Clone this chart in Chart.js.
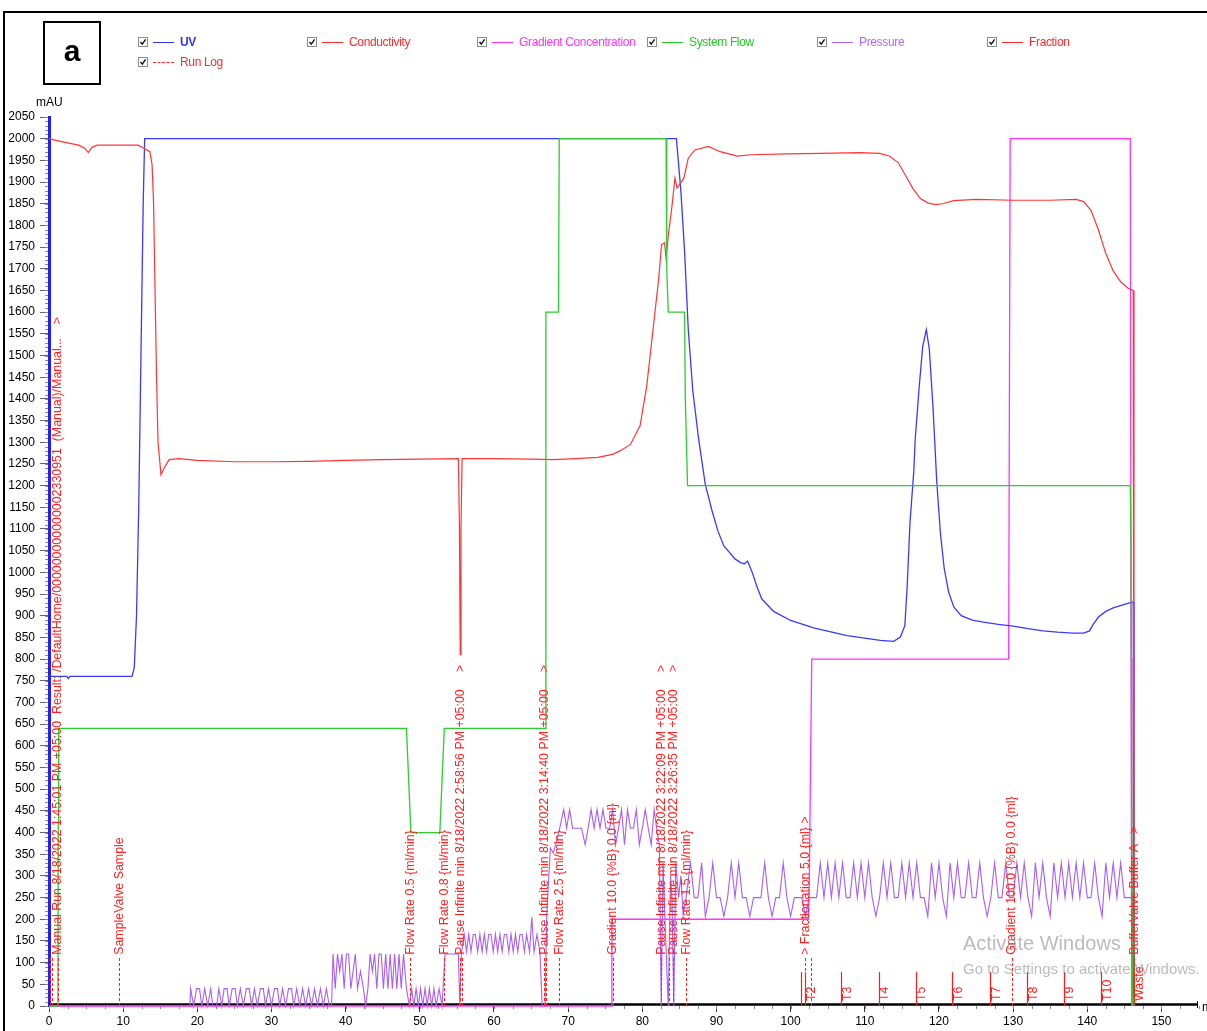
<!DOCTYPE html>
<html>
<head>
<meta charset="utf-8">
<script src="https://cdn.jsdelivr.net/npm/chart.js@4.4.1/dist/chart.umd.min.js"></script>
<style>
  html, body { margin: 0; padding: 0; background: #fff; }
  body { width: 1207px; height: 1031px; position: relative; overflow: hidden;
         font-family: 'Liberation Sans', Arial, sans-serif; }
  #c { position: absolute; left: 0; top: 0; }
  .frame-top { position: absolute; left: 3px; top: 11px; width: 1204px; height: 2px; background: #000; }
  .frame-left { position: absolute; left: 3px; top: 11px; width: 2px; height: 1020px; background: #000; }
  .tag { position: absolute; left: 43px; top: 21px; width: 54px; height: 60px; border: 2px solid #000;
         font: bold 30px 'Liberation Sans', Arial, sans-serif; text-align: center; line-height: 56px; }
  .unit { position: absolute; left: 36px; top: 95px; font-size: 12px; color: #000; }
  .lg { position: absolute; height: 12px; }
  .lg .cb { position: absolute; left: 0; top: 0; width: 8px; height: 8px; border: 1px solid #8c8c8c; background: #fff; }
  .lg .cb svg { position: absolute; left: 0; top: 0; }
  .lg .ln { position: absolute; left: 15px; top: 5px; width: 21px; height: 0; border-top: 1.3px solid; }
  .lg .tx { position: absolute; left: 42px; top: -2px; font-size: 12px; letter-spacing: -0.35px;
            white-space: nowrap; line-height: 14px; }
</style>
</head>
<body>
<canvas id="c" width="1207" height="1031"></canvas>
<div class="frame-top"></div>
<div class="frame-left"></div>
<div class="tag">a</div>
<div class="unit">mAU</div>
<div id="legend"></div>
<script>
// ---- curve data: [volume ml, value] ----
const uv = [[0,760],[2.4,760],[2.6,755],[2.8,760],[11.2,760],[11.5,780],[11.8,900],[12.1,1150],[12.4,1500],
  [12.7,1850],[12.9,2000],[84.6,2000],[85.2,1880],[85.7,1740],[86.2,1560],[86.8,1420],[87.6,1307],[88.5,1202],
  [89.4,1142],[90.2,1095],[91.0,1061],[92.5,1031],[93.3,1022],[93.8,1020],[94.2,1026],[94.8,1001],[95.5,965],
  [96.1,939],[97.7,910],[100.0,889],[103.1,872],[107.6,854],[112.1,843],[113.9,841],[114.8,851],[115.4,877],
  [115.7,962],[116.1,1116],[116.6,1231],[116.8,1307],[117.3,1420],[117.8,1520],[118.3,1560],[118.7,1515],
  [119.2,1380],[119.7,1210],[120.2,1090],[120.7,1010],[121.3,955],[122.0,920],[123.0,900],[124.5,890],
  [126.0,885],[128.0,880],[130.0,876],[132.0,870],[134.0,865],[136.0,862],[138.0,860],[139.5,860],[140.3,865],
  [140.8,880],[141.5,897],[142.5,910],[143.5,918],[145.0,926],[146.2,932],[146.3,20]];

const conductivity = [[0,2000],[0.5,1998],[2,1992],[4,1985],[4.8,1978],[5.3,1968],[5.8,1980],[6.5,1985],
  [12.0,1985],[12.8,1978],[13.6,1970],[13.9,1940],[14.1,1850],[14.3,1650],[14.5,1450],[14.7,1300],[15.1,1225],
  [15.5,1240],[16.2,1260],[17.5,1262],[20,1258],[25,1255],[30,1255],[35,1256],[40,1258],[45,1260],[50,1261],
  [55.2,1262],[55.35,1100],[55.45,810],[55.55,1100],[55.7,1262],[60,1262],[65,1261],[68,1260],[71,1262],
  [74,1265],[76,1272],[77,1280],[78.4,1295],[79.7,1338],[80.6,1430],[81.5,1568],[82.2,1675],[82.6,1756],
  [83.0,1760],[83.2,1726],[83.5,1775],[84.0,1844],[84.4,1909],[84.7,1886],[85.6,1909],[86.2,1955],[87.1,1974],
  [88.9,1982],[90.5,1970],[92.8,1960],[94.6,1963],[99.5,1965],[104,1966],[109.4,1968],[112,1966],[113.3,1960],
  [114.5,1945],[115.5,1915],[116.5,1885],[117.5,1862],[118.5,1852],[119.5,1848],[120.5,1850],[122,1857],
  [125,1860],[130,1858],[135,1858],[138.5,1860],[139.5,1855],[140.5,1835],[141.5,1790],[142.5,1735],
  [143.5,1695],[144.5,1670],[145.5,1655],[146.2,1650],[146.3,0]];

const systemFlow = [[0,0],[1.2,0],[1.25,420],[1.3,640],[48.2,640],[48.4,560],[48.8,400],[52.7,400],[53.1,560],
  [53.3,640],[66.9,640],[67.0,1600],[68.7,1600],[68.8,2000],[83.2,2000],[83.3,1700],[83.5,1600],[85.7,1600],
  [85.8,1400],[86.1,1200],[145.8,1200],[145.9,1060],[146.0,1060],[146.1,0]];

const gradient = [[0,0],[75.8,0],[75.9,200],[102.4,200],[102.5,260],[102.7,580],[102.85,800],[129.4,800],
  [129.6,2000],[145.8,2000],[145.9,800],[146.0,0]];

const pressure = [[0,0],[19.0,0],[19.1,40],[19.5,0],[19.9,40],[20.3,40],[20.6,0],[21.0,40],[21.4,0],[21.8,40],
  [22.1,0],[22.6,0],[22.9,40],[23.3,0],[23.6,40],[24.0,40],[24.3,0],[24.7,40],[25.1,40],[25.4,0],[25.8,40],
  [26.2,0],[26.6,40],[27.0,40],[27.3,0],[27.7,40],[28.1,0],[28.5,40],[28.9,40],[29.2,0],[29.6,40],[30.0,0],
  [30.4,40],[30.8,40],[31.1,0],[31.5,40],[31.9,0],[32.3,40],[32.7,40],[33.0,0],[33.4,40],[33.8,0],[34.2,40],
  [34.6,0],[35.0,40],[35.4,0],[35.8,40],[36.2,0],[36.6,40],[37.0,0],[37.4,40],[37.8,0],[38.1,0],
  [38.3,120],[38.6,40],[38.9,120],[39.2,80],[39.5,120],[39.8,40],[40.1,120],[40.4,120],[40.7,40],[41.0,80],
  [41.3,120],[41.6,40],[42.0,80],[42.4,40],[42.7,0],[43.0,40],[43.3,120],[43.6,80],[43.9,120],[44.2,40],
  [44.5,120],[44.8,120],[45.1,40],[45.4,120],[45.7,40],[46.0,120],[46.3,40],[46.6,120],[46.9,40],[47.2,120],
  [47.5,40],[47.8,120],[48.2,40],[48.6,0],[48.9,40],[49.2,0],[49.5,40],[49.8,0],[50.1,40],[50.4,0],[50.7,40],
  [51.0,0],[51.3,40],[51.6,0],[51.9,40],[52.2,0],[52.6,40],[53.0,0],[53.4,120],[55.2,120],[55.4,0],[55.6,120],
  [56.0,165],[56.3,125],[56.6,165],[56.9,125],[57.2,165],[57.5,165],[57.8,125],[58.1,165],[58.4,125],
  [58.7,165],[59.0,125],[59.3,165],[59.6,165],[59.9,125],[60.2,165],[60.5,125],[60.8,165],[61.1,125],
  [61.4,165],[61.7,165],[62.0,125],[62.3,165],[62.6,125],[62.9,165],[63.2,125],[63.5,165],[63.8,165],
  [64.1,125],[64.4,165],[64.8,125],[65.1,205],[65.4,125],[65.8,165],[66.2,125],[66.5,0],[66.9,0],[67.1,205],
  [67.6,364],[68.0,353],[68.5,383],[68.9,413],[69.4,453],[69.8,410],[70.2,453],[70.6,410],[71.2,410],
  [71.8,410],[72.3,372],[72.7,410],[73.1,453],[73.5,410],[73.9,453],[74.3,410],[74.7,453],[75.1,410],
  [75.6,410],[76.0,453],[76.4,372],[76.8,410],[77.2,453],[77.6,372],[78.0,453],[78.4,410],[78.8,410],
  [79.2,453],[79.6,372],[80.0,410],[80.4,453],[80.8,410],[81.2,372],[81.6,453],[82.0,400],[82.3,372],
  [82.55,0],[82.8,330],[83.1,180],[83.5,0],[83.8,300],[84.0,250],[84.25,0],[84.5,330],[84.9,250],[85.2,300],
  [85.5,210],[85.9,250],[86.0,250],[86.5,330],[87.0,250],[87.5,250],[88.0,330],[88.5,207],[89.0,250],
  [89.5,330],[90.0,250],[90.5,250],[91.0,207],[91.5,250],[92.0,330],[92.5,250],[93.0,330],[93.5,250],
  [94.0,250],[94.5,207],[95.0,250],[95.5,250],[96.0,250],[96.5,330],[97.0,250],[97.5,207],[98.0,250],
  [98.5,250],[99.0,330],[99.5,250],[100.0,207],[100.5,250],[101.0,250],[101.5,250],[102.0,207],[102.5,250],
  [103.0,250],[103.5,250],[104.0,330],[104.5,250],[105.0,330],[105.5,250],[106.0,330],[106.5,250],
  [107.0,330],[107.5,250],[108.0,250],[108.5,330],[109.0,250],[109.5,330],[110.0,250],[110.5,330],
  [111.0,250],[111.5,207],[112.0,250],[112.5,330],[113.0,250],[113.5,330],[114.0,250],[114.5,250],
  [115.0,330],[115.5,250],[116.0,330],[116.5,250],[117.0,330],[117.5,250],[118.0,250],[118.5,207],
  [119.0,330],[119.5,250],[120.0,330],[120.5,250],[121.0,207],[121.5,330],[122.0,250],[122.5,330],
  [123.0,250],[123.5,250],[124.0,330],[124.5,250],[125.0,250],[125.5,330],[126.0,250],[126.5,207],
  [127.0,250],[127.5,330],[128.0,250],[128.5,250],[129.0,330],[129.5,250],[130.0,250],[130.5,330],
  [131.0,250],[131.5,330],[132.0,250],[132.5,207],[133.0,330],[133.5,250],[134.0,330],[134.5,250],
  [135.0,207],[135.5,330],[136.0,250],[136.5,330],[137.0,250],[137.5,330],[138.0,250],[138.5,330],
  [139.0,250],[139.5,330],[140.0,250],[140.5,250],[141.0,330],[141.5,250],[142.0,207],[142.5,330],
  [143.0,250],[143.5,330],[144.0,250],[144.5,330],[145.0,250],[145.5,250],[146.0,250],[146.3,0]];

// ---- run log events ----
const runLogX = [1.15, 9.5, 48.7, 53.3, 55.45, 66.8, 68.8, 76.0, 82.55, 84.2, 85.95, 101.95, 129.8, 146.35];
const runLogText = [
  'Manual Run 8/18/2022 1:45:01 PM +05:00  Result: /DefaultHome/000000000000002330951  (Manual)/Manual...    >',
  'SampleValve Sample',
  'Flow Rate 0.5 {ml/min}',
  'Flow Rate 0.8 {ml/min}',
  'Pause Infinite min 8/18/2022 2:58:56 PM +05:00     >',
  'Pause Infinite min 8/18/2022 3:14:40 PM +05:00     >',
  'Flow Rate 2.5 {ml/min}',
  'Gradient 10.0 {%B} 0.0 {ml}',
  'Pause Infinite min 8/18/2022 3:22:09 PM +05:00     >',
  'Pause Infinite min 8/18/2022 3:26:35 PM +05:00     >',
  'Flow Rate 1.5 {ml/min}',
  '> Fractionation 5.0 {ml} >',
  'Gradient 100.0 {%B} 0.0 {ml}',
  'BufferValve Buffer A   >'
];
const runLogUnlabelledX = [0.1, 0.45, 55.65, 67.05, 83.55, 102.75];

// ---- fractions ----
const fractionX = [101.4, 101.95, 106.85, 111.85, 116.85, 121.8, 126.9, 131.9, 136.85, 141.9, 146.3];
const fractionText = ['', 'T2', 'T3', 'T4', 'T5', 'T6', 'T7', 'T8', 'T9', 'T10', 'Waste'];

// ---- axis ticks ----
const xTicks = [0, 10, 20, 30, 40, 50, 60, 70, 80, 90, 100, 110, 120, 130, 140, 150];
const yTicks = [0, 50, 100, 150, 200, 250, 300, 350, 400, 450, 500, 550, 600, 650, 700, 750, 800, 850, 900,
  950, 1000, 1050, 1100, 1150, 1200, 1250, 1300, 1350, 1400, 1450, 1500, 1550, 1600, 1650, 1700, 1750, 1800,
  1850, 1900, 1950, 2000, 2050];

// ---- legend ----
const legendItems = [
  { label: 'UV', color: '#3333ff', bold: true },
  { label: 'Conductivity', color: '#ff2a2a' },
  { label: 'Gradient Concentration', color: '#ff33ff' },
  { label: 'System Flow', color: '#22c922' },
  { label: 'Pressure', color: '#b266ff' },
  { label: 'Fraction', color: '#ff2a2a' },
  { label: 'Run Log', color: '#ff2a2a', dashed: true }
];
const legendSlots = [[138, 37], [307, 37], [477, 37], [647, 37], [817, 37], [987, 37], [138, 57]];

const legendEl = document.getElementById('legend');
legendItems.forEach((it, i) => {
  const d = document.createElement('div');
  d.className = 'lg';
  d.style.left = legendSlots[i][0] + 'px';
  d.style.top = legendSlots[i][1] + 'px';
  d.innerHTML =
    '<div class="cb"><svg width="8" height="8"><polyline points="1.5,4 3.3,6.2 6.6,1.4" fill="none" stroke="#111" stroke-width="1.4"/></svg></div>' +
    '<div class="ln" style="border-top-color:' + it.color + ';border-top-style:' + (it.dashed ? 'dashed' : 'solid') + '"></div>' +
    '<div class="tx" style="color:' + it.color + ';font-weight:' + (it.bold ? 'bold' : 'normal') + '">' + it.label + '</div>';
  legendEl.appendChild(d);
});

const toPts = arr => arr.map(p => ({ x: p[0], y: p[1] }));
const FONT = "'Liberation Sans', Arial, sans-serif";
const LOG_RED = '#ff2020';

const decor = {
  id: 'decor',
  beforeDatasetsDraw(chart) {
    const { ctx, chartArea: a, scales: { x, y } } = chart;
    ctx.save();
    // minor ticks on the mAU axis
    ctx.strokeStyle = '#8a8a8a';
    ctx.lineWidth = 1;
    ctx.beginPath();
    for (let v = 0; v <= 2050; v += 10) {
      const py = Math.round(y.getPixelForValue(v)) + 0.5;
      ctx.moveTo(a.left - 4, py);
      ctx.lineTo(a.left - 1, py);
    }
    // minor ticks on the volume axis
    for (let v = 0; v <= 155; v += 2.5) {
      const px = Math.round(x.getPixelForValue(v)) + 0.5;
      ctx.moveTo(px, a.bottom);
      ctx.lineTo(px, a.bottom + 3);
    }
    ctx.stroke();
    // volume axis line
    ctx.strokeStyle = '#000';
    ctx.lineWidth = 2.5;
    ctx.beginPath();
    ctx.moveTo(a.left, a.bottom - 1.5);
    ctx.lineTo(a.right - 2, a.bottom - 1.5);
    ctx.stroke();
    ctx.lineWidth = 1;
    ctx.beginPath();
    ctx.moveTo(a.right - 2.5, a.bottom - 5);
    ctx.lineTo(a.right - 2.5, a.bottom + 2);
    ctx.stroke();
    ctx.fillStyle = '#000';
    ctx.font = '12px ' + FONT;
    ctx.textAlign = 'left';
    ctx.textBaseline = 'middle';
    ctx.fillText('ml', a.right + 2, a.bottom + 2);
    ctx.restore();
  },
  afterDatasetsDraw(chart) {
    const { ctx, scales: { x, y } } = chart;
    const y0 = y.getPixelForValue(0);
    ctx.save();
    // fraction marks
    ctx.strokeStyle = '#ff1a1a';
    ctx.lineWidth = 1.2;
    const fTop = y.getPixelForValue(78);
    fractionX.forEach(v => {
      const px = Math.round(x.getPixelForValue(v)) + 0.5;
      ctx.beginPath();
      ctx.moveTo(px, y0);
      ctx.lineTo(px, fTop);
      ctx.stroke();
    });
    ctx.fillStyle = LOG_RED;
    ctx.font = '12.4px ' + FONT;
    ctx.textAlign = 'left';
    ctx.textBaseline = 'middle';
    fractionX.forEach((v, i) => {
      if (!fractionText[i]) return;
      const px = x.getPixelForValue(v) + 6;
      ctx.save();
      ctx.translate(px, y0 - 5);
      ctx.rotate(-Math.PI / 2);
      ctx.fillText(fractionText[i], 0, 0);
      ctx.restore();
    });
    // run log markers
    const lTop = y.getPixelForValue(112);
    ctx.strokeStyle = LOG_RED;
    ctx.lineWidth = 1;
    ctx.setLineDash([3, 2]);
    runLogX.concat(runLogUnlabelledX).forEach(v => {
      const px = Math.round(x.getPixelForValue(v)) + 0.5;
      ctx.beginPath();
      ctx.moveTo(px, y0);
      ctx.lineTo(px, lTop);
      ctx.stroke();
    });
    ctx.setLineDash([]);
    const tBase = y.getPixelForValue(118);
    runLogX.forEach((v, i) => {
      const px = x.getPixelForValue(v);
      ctx.save();
      ctx.translate(px, tBase);
      ctx.rotate(-Math.PI / 2);
      ctx.fillText(runLogText[i], 0, 0);
      ctx.restore();
    });
    // desktop watermark
    ctx.fillStyle = 'rgba(120,120,120,0.5)';
    ctx.font = '20px ' + FONT;
    ctx.textBaseline = 'alphabetic';
    ctx.fillText('Activate Windows', 963, 950);
    ctx.font = '15px ' + FONT;
    ctx.fillText('Go to Settings to activate Windows.', 963, 974);
    ctx.restore();
  }
};

const lineDs = (label, data, color, width) => ({
  label, data: toPts(data), borderColor: color, backgroundColor: color,
  borderWidth: width, pointRadius: 0, tension: 0, fill: false, clip: false
});

new Chart(document.getElementById('c'), {
  type: 'line',
  data: {
    datasets: [
      lineDs('System Flow', systemFlow, '#2ecc2e', 1.3),
      lineDs('Conductivity', conductivity, '#ff3535', 1.2),
      lineDs('UV', uv, '#3a3aff', 1.3),
      lineDs('Gradient Concentration', gradient, '#ff33ff', 1.3),
      lineDs('Pressure', pressure, '#a85ff5', 1.1)
    ]
  },
  options: {
    responsive: false,
    animation: false,
    events: [],
    layout: { padding: { left: 0, right: 7, top: 117, bottom: 0 } },
    plugins: { legend: { display: false }, tooltip: { enabled: false } },
    scales: {
      x: {
        type: 'linear', min: 0, max: 155.2,
        afterBuildTicks: s => { s.ticks = xTicks.map(v => ({ value: v })); },
        afterFit: s => { s.height = 25; },
        ticks: { color: '#000', font: { size: 12, family: FONT }, padding: 2, maxRotation: 0, autoSkip: false,
                 callback: v => String(v) },
        grid: { drawOnChartArea: false, drawTicks: true, tickLength: 6, color: '#333' },
        border: { display: false }
      },
      y: {
        type: 'linear', min: 0, max: 2050,
        afterBuildTicks: s => { s.ticks = yTicks.map(v => ({ value: v })); },
        afterFit: s => { s.width = 49; },
        ticks: { color: '#000', font: { size: 12, family: FONT }, padding: 5, autoSkip: false,
                 callback: v => String(v) },
        grid: { drawOnChartArea: false, drawTicks: true, tickLength: 9, color: '#666' },
        border: { display: true, color: '#1f1fff', width: 3 }
      }
    }
  },
  plugins: [decor]
});
</script>
</body>
</html>
